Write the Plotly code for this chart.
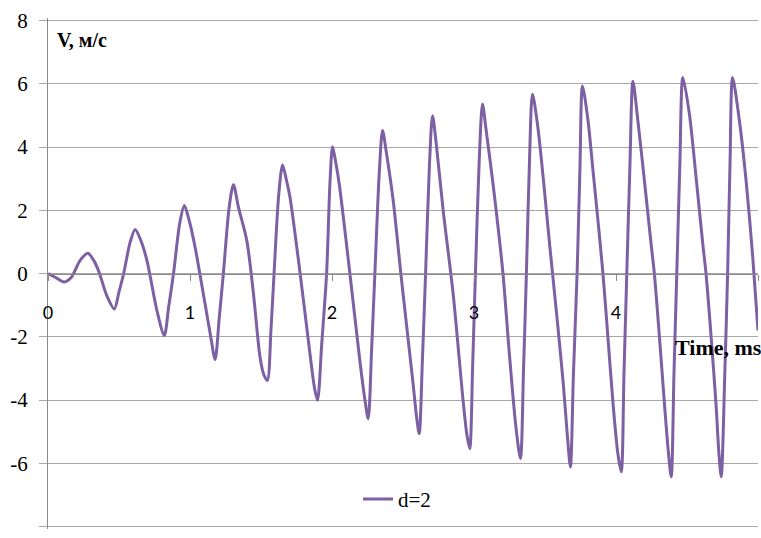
import plotly.graph_objects as go

# Time, ms
t_ms = [
    0.000, 0.050, 0.114, 0.165, 0.224, 0.281, 0.324, 0.359, 0.414, 0.467,
    0.499, 0.533, 0.579, 0.614, 0.653, 0.697, 0.767, 0.819, 0.850, 0.884,
    0.928, 0.960, 0.993, 1.036, 1.106, 1.146, 1.177, 1.206, 1.235, 1.276,
    1.306, 1.341, 1.400, 1.446, 1.493, 1.520, 1.545, 1.570, 1.592, 1.625,
    1.652, 1.679, 1.704, 1.770, 1.845, 1.876, 1.898, 1.928, 1.962, 1.986,
    2.004, 2.025, 2.051, 2.126, 2.196, 2.232, 2.255, 2.279, 2.302, 2.332,
    2.356, 2.382, 2.431, 2.490, 2.571, 2.596, 2.614, 2.637, 2.659, 2.686,
    2.708, 2.733, 2.783, 2.853, 2.923, 2.950, 2.970, 2.990, 3.010, 3.037,
    3.060, 3.085, 3.134, 3.204, 3.247, 3.294, 3.327, 3.349, 3.369, 3.391,
    3.412, 3.449, 3.489, 3.534, 3.589, 3.629, 3.657, 3.679, 3.700, 3.726,
    3.746, 3.764, 3.803, 3.838, 3.873, 3.908, 3.943, 3.979, 4.013, 4.037,
    4.056, 4.076, 4.098, 4.119, 4.154, 4.200, 4.247, 4.270, 4.306, 4.341,
    4.370, 4.389, 4.408, 4.428, 4.450, 4.471, 4.517, 4.564, 4.611, 4.634,
    4.670, 4.704, 4.725, 4.741, 4.766, 4.786, 4.803, 4.821, 4.869, 4.916,
    4.963, 5.000,
]

# V, m/s  (series d=2)
v_d2 = [
    0.00, -0.12, -0.27, -0.12, 0.40, 0.64, 0.40, 0.05, -0.70, -1.12,
    -0.60, 0.00, 1.00, 1.39, 1.05, 0.41, -1.17, -1.96, -1.05, 0.00,
    1.60, 2.15, 1.70, 0.83, -0.96, -2.00, -2.72, -1.40, 0.00, 2.10,
    2.81, 2.10, 1.04, -0.60, -2.64, -3.20, -3.38, -1.80, 0.00, 2.50,
    3.43, 2.95, 2.41, 0.20, -2.54, -3.60, -4.01, -2.20, 0.00, 2.90,
    4.01, 3.55, 2.83, 0.00, -2.75, -4.00, -4.59, -2.40, 0.00, 3.10,
    4.52, 3.85, 2.30, -0.22, -3.48, -4.55, -5.06, -2.70, 0.00, 3.40,
    4.99, 4.15, 1.99, -0.64, -4.01, -5.10, -5.54, -3.00, 0.00, 3.60,
    5.36, 4.55, 2.83, 0.00, -2.43, -4.80, -5.85, -3.00, 0.00, 3.60,
    5.67, 4.65, 2.95, 0.85, -1.60, -3.50, -5.10, -6.12, -3.20, 0.00,
    3.30, 5.93, 4.83, 3.25, 1.67, 0.00, -2.01, -4.11, -5.69, -6.27,
    -3.20, 0.00, 3.40, 6.08, 4.83, 2.94, 0.94, 0.00, -2.01, -4.11,
    -5.70, -6.43, -3.20, 0.00, 3.50, 6.20, 5.04, 3.04, 0.94, 0.00,
    -2.01, -4.11, -5.70, -6.43, -3.20, 0.00, 3.50, 6.20, 4.83, 2.94,
    0.52, -1.80,
]

series_name = "d=2"
x_ticks = [0, 1, 2, 3, 4, 5]
x_tick_text = ["0", "1", "2", "3", "4", "5"]
y_ticks = [-8, -6, -4, -2, 0, 2, 4, 6, 8]
y_tick_text = ["-8", "-6", "-4", "-2", "0", "2", "4", "6", "8"]
y_title = "V, м/с"
x_title = "Time, ms"

LINE = "#7d60a3"
GRID = "#a8a8a8"
AXIS = "#8a8a8a"
SERIF = "Liberation Serif, Times New Roman, serif"
SANS = "Lato, Open Sans, sans-serif"

fig = go.Figure()

# outer gridlines at the first and last y tick (Plotly omits them at the range edges)
for yv in (y_ticks[0], y_ticks[-1]):
    fig.add_trace(go.Scatter(
        x=[x_ticks[0], x_ticks[-1]], y=[yv, yv], mode="lines",
        line=dict(color=GRID, width=1), showlegend=False, hoverinfo="skip",
    ))

fig.add_trace(go.Scatter(
    x=t_ms, y=v_d2, mode="lines", name=series_name,
    line=dict(color=LINE, width=3, shape="spline", smoothing=0.8),
    showlegend=True,
))

fig.update_layout(
    width=761, height=538,
    margin=dict(l=48, r=3, t=18, b=9, pad=0),
    paper_bgcolor="white", plot_bgcolor="white",
    showlegend=True,
    legend=dict(
        x=0.4366, y=0.058, xanchor="left", yanchor="middle",
        font=dict(family=SERIF, size=21, color="black"),
        bgcolor="rgba(0,0,0,0)", borderwidth=0,
    ),
    xaxis=dict(
        range=[0, 5], tickvals=x_ticks, ticktext=x_tick_text,
        showgrid=False, zeroline=False,
        showline=True, linecolor=AXIS, linewidth=1,
        anchor="free", position=0.5,
        ticks="outside", ticklen=6, tickcolor=AXIS, tickwidth=1,
        ticklabelstandoff=17,
        tickfont=dict(family=SANS, size=18, color="black"),
    ),
    yaxis=dict(
        range=[-8.0789, 8.0789], tickvals=y_ticks, ticktext=y_tick_text,
        showgrid=True, gridcolor=GRID, gridwidth=1, zeroline=False,
        showline=True, linecolor=AXIS, linewidth=1,
        ticks="outside", ticklen=8, tickcolor=GRID, tickwidth=1,
        ticklabelstandoff=7,
        tickfont=dict(family=SERIF, size=21, color="black"),
    ),
    annotations=[
        dict(x=0.05, y=7.37, xref="x", yref="y", text="<b>" + y_title + "</b>",
             showarrow=False, xanchor="left", yanchor="middle",
             font=dict(family=SERIF, size=20, color="black")),
        dict(x=4.40, y=-2.33, xref="x", yref="y", text="<b>" + x_title + "</b>",
             showarrow=False, xanchor="left", yanchor="middle",
             font=dict(family=SERIF, size=22, color="black")),
    ],
)

fig.write_html("out.html")
